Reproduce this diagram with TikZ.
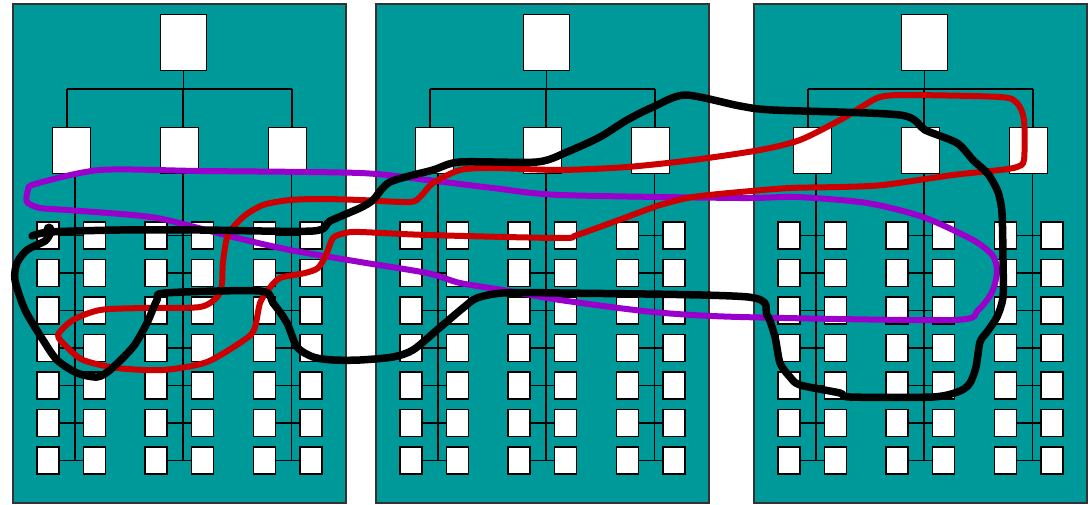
\documentclass[tikz,border=0pt]{standalone}
\definecolor{panelteal}{RGB}{0,153,153}
\definecolor{loopred}{RGB}{204,0,0}
\definecolor{looppurple}{RGB}{153,0,204}
\tikzset{
  panel/.style={draw=black!80, fill=panelteal, line width=1.2pt, inner sep=0pt,
    minimum width=333pt, minimum height=499pt},
  box/.style={draw=black, fill=white, line width=1.9pt, inner sep=0pt},
  topbox/.style={box, minimum width=46pt, minimum height=56pt},
  midbox/.style={box, minimum width=38pt, minimum height=46pt},
  cell/.style={box, minimum width=22pt, minimum height=27pt},
  link/.style={draw=black, line width=1.6pt},
  blackloop/.style={draw=black, line width=7.5pt, line cap=round, line join=round},
  redloop/.style={draw=loopred, line width=6pt, line join=round},
  purpleloop/.style={draw=looppurple, line width=6pt, line join=round}
}
\begin{document}
\begin{tikzpicture}[x=1pt, y=-1pt]
\useasboundingbox (0,0) rectangle (1088,505);
\fill[white] (0,0) rectangle (1088,505);

% three identical organisation charts
\foreach \k/\dx in {1/0, 2/363, 3/741} {
  \begin{scope}[xshift=\dx pt]
    \node[panel] (p\k) at (179.5,253.5) {};
    \node[topbox] (p\k t) at (183.5,42.5) {};
    \foreach \j/\mx/\bx in {1/71.5/67, 2/179.5/183, 3/287.5/292} {
      \node[midbox] (p\k m\j) at (\mx,150.5) {};
      \coordinate (p\k b\j) at (\bx,89);
    }
    \draw[link] (p\k t.south) -- (p\k t.south |- p\k b2);
    \draw[link] (p\k b1) -- (p\k b3);
    \foreach \j in {1,2,3} {
      \draw[link] (p\k b\j) -- (p\k b\j |- p\k m\j.north);
    }
    \foreach \j/\L in {1/48, 2/156, 3/264.5} {
      \foreach \i in {1,...,7} {
        \node[cell] (p\k g\j r\i a) at (\L, 235.5+37.5*\i-37.5) {};
        \node[cell] (p\k g\j r\i b) at (\L+46.5, 235.5+37.5*\i-37.5) {};
      }
      \coordinate (p\k v\j) at (\L+27, 0);
      \draw[link] (p\k v\j |- p\k m\j.south) -- (p\k v\j |- p\k g\j r7a);
      \foreach \i in {1,...,7} {
        \draw[link] (p\k g\j r\i a.east) -- (p\k g\j r\i b.west);
      }
    }
  \end{scope}
}

% purple loop
\draw[purpleloop] plot[smooth cycle, tension=0.45] coordinates {
  (100,170) (200,171) (360,173) (427,180) (493,188) (560,195) (740,198)
  (797,197) (867,203) (923,217) (973,240) (993,256) (997,272) (992,292)
  (978,310) (953,320) (740,317) (653,312) (560,300) (503,290) (460,283)
  (427,273) (360,262) (290,250) (233,237) (167,220) (133,215) (67,210)
  (40,208) (27,202) (28,190) (35,184)};

% red loop
\draw[redloop] plot[smooth cycle, tension=0.45] coordinates {
  (223,262) (228,235) (243,217) (263,205) (290,200) (323,199) (360,200)
  (410,202) (421,196) (433,183) (460,170) (493,168) (560,170) (627,167)
  (693,160) (760,150) (800,140) (840,120) (863,106) (880,97) (907,95)
  (1000,97) (1017,103) (1024,120) (1024,160) (1017,167) (1000,170)
  (953,175) (883,185) (840,187) (790,188) (740,192) (693,197) (660,205)
  (627,217) (577,235) (560,238) (427,235) (360,232) (345,233) (333,238)
  (326,255) (318,268) (305,273) (280,278) (268,290) (260,303) (255,327)
  (247,338) (207,362) (163,370) (117,368) (83,360) (67,347) (58,335)
  (73,320) (100,310) (143,308) (200,307) (218,296) (222,283)};

% black loop
\draw[blackloop] plot[smooth, tension=0.45] coordinates {
  (32,236) (50,232) (120,230) (200,230) (313,231) (330,221) (360,208)
  (373,200) (390,182) (433,170) (460,162) (537,162) (567,152) (600,137)
  (627,120) (653,107) (685,95) (740,106) (773,110) (900,115)
  (925,130) (957,143) (973,160) (988,174) (998,192) (1002,213) (1003,260)
  (1003,297) (997,317) (987,332) (980,342) (976,367) (970,383) (960,391)
  (933,397) (850,397) (840,393) (800,385) (790,377) (780,363) (775,337)
  (767,315) (748,297) (560,293) (503,293) (477,298) (463,308)
  (437,330) (413,350) (393,357) (360,360) (333,360) (313,357) (297,347)
  (287,323) (273,303) (260,291) (165,293) (157,300) (147,323) (133,347)
  (110,370) (97,377) (77,373) (57,360) (43,340) (25,310) (15,280)
  (17,263) (27,250) (45,241) (50,234)};
\fill[black] (49,229) circle (5.5pt);
\end{tikzpicture}
\end{document}
